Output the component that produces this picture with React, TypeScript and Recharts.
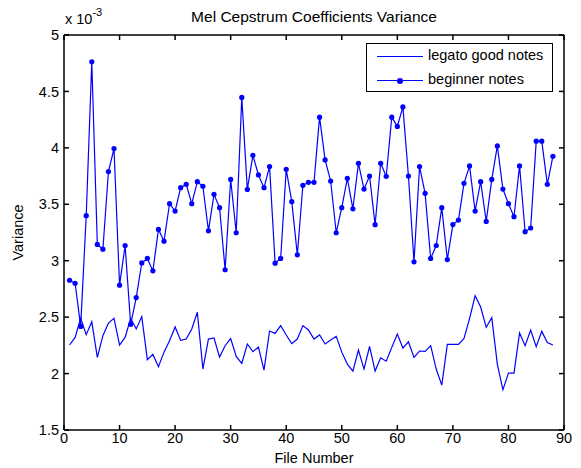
import { LineChart, Line, XAxis, YAxis } from "recharts"

// variance values, in units of 1e-3
const legatoGood = [
  2.253, 2.32, 2.49, 2.345, 2.46, 2.143, 2.336, 2.448, 2.49, 2.253,
  2.32, 2.49, 2.395, 2.505, 2.123, 2.17, 2.06, 2.19, 2.29, 2.413,
  2.294, 2.306, 2.395, 2.543, 2.04, 2.306, 2.315, 2.146, 2.247, 2.31,
  2.152, 2.09, 2.262, 2.194, 2.235, 2.03, 2.377, 2.356, 2.425, 2.342,
  2.265, 2.306, 2.425, 2.386, 2.306, 2.342, 2.262, 2.297, 2.33, 2.19,
  2.084, 2.022, 2.208, 2.04, 2.24, 2.022, 2.14, 2.11, 2.232, 2.35,
  2.226, 2.282, 2.143, 2.2, 2.196, 2.247, 2.04, 1.898, 2.259, 2.259,
  2.259, 2.312, 2.487, 2.69, 2.59, 2.41, 2.496, 2.084, 1.856, 2.004,
  2.004, 2.36, 2.247, 2.386, 2.238, 2.374, 2.276, 2.253,
]

const beginner = [
  2.827, 2.8, 2.418, 3.399, 4.763, 3.144, 3.102, 3.79, 3.994, 2.783,
  3.135, 2.436, 2.673, 2.98, 3.02, 2.91, 3.277, 3.173, 3.505, 3.44,
  3.647, 3.677, 3.505, 3.7, 3.66, 3.265, 3.588, 3.47, 2.92, 3.72,
  3.248, 4.447, 3.632, 3.934, 3.76, 3.647, 3.834, 2.978, 3.02, 3.81,
  3.523, 3.052, 3.668, 3.695, 3.695, 4.272, 3.893, 3.706, 3.248, 3.47,
  3.73, 3.46, 3.863, 3.635, 3.75, 3.319, 3.863, 3.748, 4.272, 4.19,
  4.363, 3.75, 2.99, 3.834, 3.597, 3.02, 3.135, 3.47, 3.01, 3.32,
  3.36, 3.686, 3.84, 3.44, 3.7, 3.348, 3.72, 4.017, 3.635, 3.505,
  3.39, 3.84, 3.257, 3.29, 4.059, 4.059, 3.677, 3.925,
]

const fileNumbers = legatoGood.map((_, i) => i + 1)

const xTicks = [0, 10, 20, 30, 40, 50, 60, 70, 80, 90]
const yTicks = [1.5, 2, 2.5, 3, 3.5, 4, 4.5, 5]

const data = fileNumbers.map((f, i) => ({
  file: f,
  legato: legatoGood[i],
  beginner: beginner[i],
}))

const FONT = 'Arial, "Liberation Sans", Helvetica, sans-serif'
const BLUE = "#0000ff"
const noLabel = () => <g />

export default function App() {
  const tickStyle = { fill: "#000", fontSize: 14.5, fontFamily: FONT }
  return (
    <div style={{ position: "absolute", left: 0, top: 0, width: 581, height: 468, background: "#fff", fontFamily: FONT }}>
      <LineChart width={581} height={468} data={data} margin={{ top: 34, right: 16, left: 0, bottom: 0 }}>
        <XAxis
          dataKey="file"
          type="number"
          domain={[0, 90]}
          ticks={xTicks}
          allowDataOverflow
          height={38}
          stroke="#000"
          strokeWidth={1.5}
          tickSize={-5}
          tickMargin={8}
          tick={tickStyle}
          label={{ value: "File Number", position: "insideBottom", offset: 5, fill: "#000", fontSize: 14.5, fontFamily: FONT }}
        />
        <XAxis
          xAxisId="top"
          orientation="top"
          dataKey="file"
          type="number"
          domain={[0, 90]}
          ticks={xTicks}
          allowDataOverflow
          height={1}
          stroke="#000"
          strokeWidth={1.5}
          tickSize={-5}
          tick={noLabel}
        />
        <YAxis
          type="number"
          domain={[1.5, 5]}
          ticks={yTicks}
          allowDataOverflow
          width={64}
          stroke="#000"
          strokeWidth={1.5}
          tickSize={-5}
          tickMargin={10}
          tick={tickStyle}
          label={{ value: "Variance", angle: -90, position: "insideLeft", offset: 18, fill: "#000", fontSize: 14.5, fontFamily: FONT, style: { textAnchor: "middle" } }}
        />
        <YAxis
          yAxisId="right"
          orientation="right"
          type="number"
          domain={[1.5, 5]}
          ticks={yTicks}
          allowDataOverflow
          width={1}
          stroke="#000"
          strokeWidth={1.5}
          tickSize={-5}
          tick={noLabel}
        />
        <Line
          type="linear"
          dataKey="legato"
          name="legato good notes"
          stroke={BLUE}
          strokeWidth={1.2}
          dot={false}
          isAnimationActive={false}
        />
        <Line
          type="linear"
          dataKey="beginner"
          name="beginner notes"
          stroke={BLUE}
          strokeWidth={1.2}
          dot={{ r: 2.6, fill: BLUE, stroke: BLUE, strokeWidth: 0 }}
          isAnimationActive={false}
        />
      </LineChart>

      <div style={{ position: "absolute", left: 0, width: 628, top: 8, textAlign: "center", fontSize: 15.5, color: "#000", whiteSpace: "nowrap" }}>
        Mel Cepstrum Coefficients Variance
      </div>
      <div style={{ position: "absolute", left: 65, top: 8, fontSize: 14.5, color: "#000", whiteSpace: "nowrap" }}>
        x 10<sup style={{ fontSize: 11, position: "relative", top: -2 }}>-3</sup>
      </div>

      <div style={{ position: "absolute", left: 366, top: 43, width: 185, height: 47, border: "1.5px solid #000", background: "#fff", fontSize: 14.5, color: "#000" }}>
        <div style={{ position: "absolute", left: 10, top: 12, width: 46, height: 0, borderTop: `1.2px solid ${BLUE}` }} />
        <div style={{ position: "absolute", left: 61, top: 3, whiteSpace: "nowrap" }}>legato good notes</div>
        <div style={{ position: "absolute", left: 10, top: 36, width: 46, height: 0, borderTop: `1.2px solid ${BLUE}` }} />
        <div style={{ position: "absolute", left: 30, top: 33.5, width: 6, height: 6, borderRadius: 3, background: BLUE }} />
        <div style={{ position: "absolute", left: 61, top: 27, whiteSpace: "nowrap" }}>beginner notes</div>
      </div>
    </div>
  )
}
